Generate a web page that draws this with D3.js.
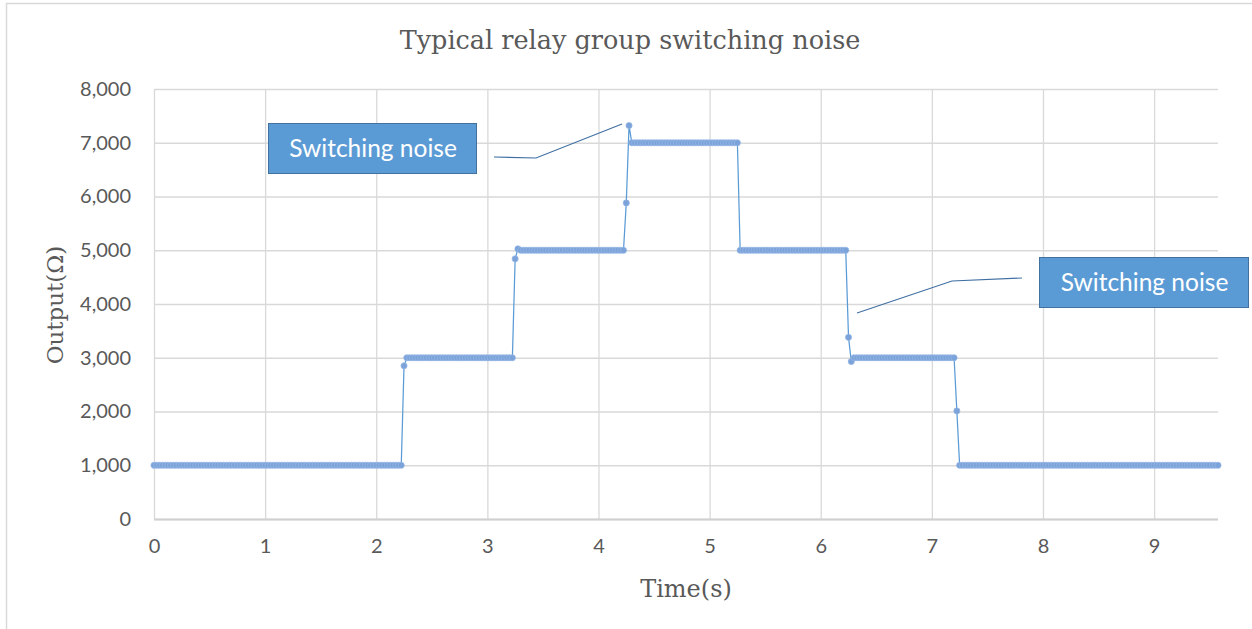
<!DOCTYPE html>
<html>
<head>
<meta charset="utf-8">
<script src="https://cdn.jsdelivr.net/npm/d3@7"></script>
<style>
  html, body { margin: 0; padding: 0; background: #ffffff; }
  svg { display: block; }
</style>
</head>
<body>
<svg id="chart" width="1252" height="629"></svg>
<script>
// ---------------- DATA ----------------
const chartTitle = "Typical relay group switching noise";
const xAxisTitle = "Time(s)";
const yAxisTitle = "Output(Ω)";
const sampleStep = 0.025;          // seconds between samples
const xDomain = [0, 9.575];
const yDomain = [0, 8000];
const xTickValues = [0, 1, 2, 3, 4, 5, 6, 7, 8, 9];
const yTickValues = [0, 1000, 2000, 3000, 4000, 5000, 6000, 7000, 8000];
const outputValues = [
  1000,1000,1000,1000,1000,1000,1000,1000,1000,1000,
  1000,1000,1000,1000,1000,1000,1000,1000,1000,1000,
  1000,1000,1000,1000,1000,1000,1000,1000,1000,1000,
  1000,1000,1000,1000,1000,1000,1000,1000,1000,1000,
  1000,1000,1000,1000,1000,1000,1000,1000,1000,1000,
  1000,1000,1000,1000,1000,1000,1000,1000,1000,1000,
  1000,1000,1000,1000,1000,1000,1000,1000,1000,1000,
  1000,1000,1000,1000,1000,1000,1000,1000,1000,1000,
  1000,1000,1000,1000,1000,1000,1000,1000,1000,1000,
  2850,
  3000,3000,3000,3000,3000,3000,3000,3000,3000,3000,
  3000,3000,3000,3000,3000,3000,3000,3000,3000,3000,
  3000,3000,3000,3000,3000,3000,3000,3000,3000,3000,
  3000,3000,3000,3000,3000,3000,3000,3000,3000,
  4840,5025,
  5000,5000,5000,5000,5000,5000,5000,5000,5000,5000,
  5000,5000,5000,5000,5000,5000,5000,5000,5000,5000,
  5000,5000,5000,5000,5000,5000,5000,5000,5000,5000,
  5000,5000,5000,5000,5000,5000,5000,5000,
  5880,7320,
  7000,7000,7000,7000,7000,7000,7000,7000,7000,7000,
  7000,7000,7000,7000,7000,7000,7000,7000,7000,7000,
  7000,7000,7000,7000,7000,7000,7000,7000,7000,7000,
  7000,7000,7000,7000,7000,7000,7000,7000,7000,
  5000,5000,5000,5000,5000,5000,5000,5000,5000,5000,
  5000,5000,5000,5000,5000,5000,5000,5000,5000,5000,
  5000,5000,5000,5000,5000,5000,5000,5000,5000,5000,
  5000,5000,5000,5000,5000,5000,5000,5000,5000,
  3380,2930,
  3000,3000,3000,3000,3000,3000,3000,3000,3000,3000,
  3000,3000,3000,3000,3000,3000,3000,3000,3000,3000,
  3000,3000,3000,3000,3000,3000,3000,3000,3000,3000,
  3000,3000,3000,3000,3000,3000,3000,
  2010,
  1000,1000,1000,1000,1000,1000,1000,1000,1000,1000,
  1000,1000,1000,1000,1000,1000,1000,1000,1000,1000,
  1000,1000,1000,1000,1000,1000,1000,1000,1000,1000,
  1000,1000,1000,1000,1000,1000,1000,1000,1000,1000,
  1000,1000,1000,1000,1000,1000,1000,1000,1000,1000,
  1000,1000,1000,1000,1000,1000,1000,1000,1000,1000,
  1000,1000,1000,1000,1000,1000,1000,1000,1000,1000,
  1000,1000,1000,1000,1000,1000,1000,1000,1000,1000,
  1000,1000,1000,1000,1000,1000,1000,1000,1000,1000,
  1000,1000,1000,1000
];
const calloutTexts = ["Switching noise", "Switching noise"];

// ---------------- LAYOUT ----------------
const svg = d3.select("#chart");
const margin = { left: 154, right: 1218, top: 89, bottom: 519 };
const sans = "Lato, 'Open Sans', 'Noto Sans', sans-serif";
const slab = "'DejaVu Serif', serif";
const textColor = "#595959";
const gridColor = "#d9d9d9";

const x = d3.scaleLinear().domain(xDomain).range([margin.left, margin.right]);
const y = d3.scaleLinear().domain(yDomain).range([margin.bottom, margin.top]);

// outer chart border
svg.append("rect")
  .attr("x", 6.5).attr("y", 3.5)
  .attr("width", 1300).attr("height", 700)
  .attr("fill", "#fff").attr("stroke", gridColor).attr("stroke-width", 1.5);

// horizontal gridlines + y labels
const yAxis = d3.axisLeft(y).tickValues(yTickValues)
  .tickFormat(d3.format(",")).tickSize(-(margin.right - margin.left)).tickPadding(23);
const gy = svg.append("g").attr("transform", `translate(${margin.left},0)`).call(yAxis);
gy.select(".domain").remove();
gy.selectAll(".tick line").attr("stroke", gridColor).attr("stroke-width", 1.3);
gy.selectAll(".tick text").attr("fill", textColor)
  .style("font-family", sans).style("font-size", "20px");

// vertical gridlines + x labels
const xAxis = d3.axisBottom(x).tickValues(xTickValues)
  .tickFormat(d3.format("d")).tickSize(-(margin.bottom - margin.top)).tickPadding(20);
const gx = svg.append("g").attr("transform", `translate(0,${margin.bottom})`).call(xAxis);
gx.select(".domain").remove();
gx.selectAll(".tick line").attr("stroke", gridColor).attr("stroke-width", 1.3);
gx.selectAll(".tick text").attr("fill", textColor)
  .style("font-family", sans).style("font-size", "20px");

// bottom axis line (slightly darker)
svg.append("line")
  .attr("x1", margin.left).attr("x2", margin.right)
  .attr("y1", margin.bottom + 0.5).attr("y2", margin.bottom + 0.5)
  .attr("stroke", "#d0d0d0").attr("stroke-width", 2);

// titles
svg.append("text").attr("x", 630).attr("y", 49).attr("text-anchor", "middle")
  .attr("fill", textColor).style("font-family", slab).style("font-size", "25.5px")
  .text(chartTitle);
svg.append("text").attr("x", 686).attr("y", 597).attr("text-anchor", "middle")
  .attr("fill", textColor).style("font-family", slab).style("font-size", "24px")
  .text(xAxisTitle);
svg.append("text").attr("transform", "translate(63,305) rotate(-90)")
  .attr("text-anchor", "middle")
  .attr("fill", textColor).style("font-family", slab).style("font-size", "23px")
  .text(yAxisTitle);

// series
const series = outputValues.map((v, i) => ({ t: i * sampleStep, v }));
const line = d3.line().x(d => x(d.t)).y(d => y(d.v));
svg.append("path").datum(series)
  .attr("d", line).attr("fill", "none")
  .attr("stroke", "#5b9bd5").attr("stroke-width", 1.25);
svg.append("g").selectAll("circle").data(series).join("circle")
  .attr("cx", d => x(d.t)).attr("cy", d => y(d.v)).attr("r", 3.1)
  .attr("fill", "#7ba2d9").attr("stroke", "#98b9e6").attr("stroke-width", 0.7);

// callouts (boxes and leader lines)
const calloutBoxes = [
  { x: 268, y: 123, w: 208, h: 50, leader: [[494, 157], [536, 158], [622, 124]] },
  { x: 1039, y: 257, w: 209, h: 50, leader: [[1022, 278], [952, 281], [857, 313]] }
];
calloutBoxes.forEach((b, k) => {
  svg.append("path").attr("d", d3.line()(b.leader)).attr("fill", "none")
    .attr("stroke", "#3f6fa3").attr("stroke-width", 1.1);
  svg.append("rect").attr("x", b.x + 0.5).attr("y", b.y + 0.5)
    .attr("width", b.w).attr("height", b.h)
    .attr("fill", "#5b9bd5").attr("stroke", "#41719c").attr("stroke-width", 1);
  svg.append("text").attr("x", b.x + b.w / 2 + 1).attr("y", b.y + b.h / 2 + 8.5)
    .attr("text-anchor", "middle").attr("fill", "#ffffff")
    .style("font-family", sans).style("font-size", "24.5px")
    .text(calloutTexts[k]);
});
</script>
</body>
</html>
